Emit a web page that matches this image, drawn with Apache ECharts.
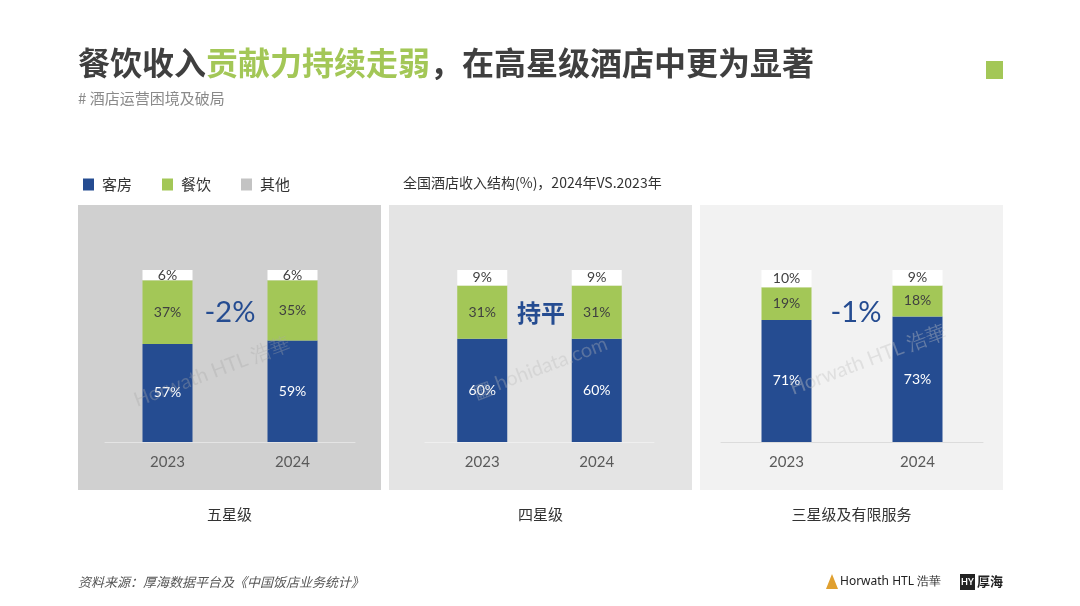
<!DOCTYPE html>
<html>
<head>
<meta charset="utf-8">
<script src="https://cdn.jsdelivr.net/npm/echarts@6/dist/echarts.min.js"></script>
<style>
html,body{margin:0;padding:0;background:#fff;}
#chart{width:1080px;height:606px;}
</style>
</head>
<body>
<div id="chart"></div>
<script>
// ---- data ----
const categories = ['2023', '2024'];
const panelNames = ['五星级', '四星级', '三星级及有限服务'];
const roomShare = [[57, 59], [60, 60], [71, 73]];
const fnbShare = [[37, 35], [31, 31], [19, 18]];
const otherShare = [[6, 6], [9, 9], [10, 9]];
const changeLabels = ['-2%', '持平', '-1%'];
const seriesNames = ['客房', '餐饮', '其他'];

// ---- layout / style ----
const BLUE = '#254c91', GREEN = '#a3c757', OTHER = '#ffffff', LEGEND_GREY = '#c3c3c3';
const panelRects = [
  {x: 78, y: 205, w: 303, h: 285, fill: '#d0d0d0', line: '#e4e4e4'},
  {x: 389, y: 205, w: 303, h: 285, fill: '#e4e4e4', line: '#efefef'},
  {x: 700, y: 205, w: 303, h: 285, fill: '#f2f2f2', line: '#dcdcdc'}
];
const gridDefs = [
  {left: 105, width: 250},
  {left: 425, width: 229},
  {left: 721, width: 262}
];
const numFont = 'Lato, "Noto Sans", sans-serif';
const cjk = '"Noto Sans CJK SC", sans-serif';

const grids = [], xAxes = [], yAxes = [], series = [];
gridDefs.forEach((g, i) => {
  grids.push({left: g.left, width: g.width, top: 270, bottom: 164, containLabel: false});
  xAxes.push({
    type: 'category', gridIndex: i, data: categories,
    axisLine: {show: true, lineStyle: {color: panelRects[i].line, width: 1}},
    axisTick: {show: false},
    axisLabel: {color: '#5a5a5a', fontSize: 15, fontFamily: numFont, margin: 13}
  });
  yAxes.push({type: 'value', gridIndex: i, min: 0, max: 100, show: false, splitLine: {show: false}});
  const sets = [roomShare[i], fnbShare[i], otherShare[i]];
  const colors = [BLUE, GREEN, OTHER];
  const labelColors = ['#ffffff', '#404040', '#404040'];
  sets.forEach((vals, k) => {
    series.push({
      name: seriesNames[k], type: 'bar', stack: 'p' + i,
      xAxisIndex: i, yAxisIndex: i, barWidth: 50,
      data: vals,
      itemStyle: {color: colors[k]},
      label: {show: true, position: 'inside', formatter: '{c}%', color: labelColors[k],
        fontSize: 14, fontFamily: numFont},
      emphasis: {disabled: true}
    });
  });
});

const graphics = [];
panelRects.forEach(p => {
  graphics.push({type: 'rect', z: -10, shape: {x: p.x, y: p.y, width: p.w, height: p.h}, style: {fill: p.fill}});
});
// title
graphics.push({
  type: 'text', x: 78, y: 63, z: 10,
  style: {
    text: '{a|餐饮收入}{b|贡献力持续走弱}{a|，在高星级酒店中更为显著}',
    verticalAlign: 'middle',
    rich: {
      a: {fill: '#3f3f3f', fontSize: 32, fontWeight: 'bold', fontFamily: cjk},
      b: {fill: GREEN, fontSize: 32, fontWeight: 'bold', fontFamily: cjk}
    }
  }
});
graphics.push({type: 'text', x: 78, y: 98, style: {text: '# 酒店运营困境及破局', fill: '#8a8a8a', fontSize: 15, fontFamily: cjk, verticalAlign: 'middle'}});
graphics.push({type: 'rect', shape: {x: 986, y: 61, width: 17, height: 18}, style: {fill: GREEN}});
// chart title
graphics.push({type: 'text', x: 403, y: 183, style: {text: '全国酒店收入结构(%)，2024年VS.2023年', fill: '#333', fontSize: 14, fontFamily: cjk, verticalAlign: 'middle'}});
// change labels
const changeX = [230, 541, 856];
changeLabels.forEach((t, i) => {
  const isCjk = /[\u4e00-\u9fff]/.test(t);
  graphics.push({type: 'text', x: changeX[i], y: 313, z: 10, style: {
    text: t, fill: BLUE, fontSize: isCjk ? 24 : 29, fontWeight: isCjk ? 'bold' : 'normal',
    fontFamily: isCjk ? cjk : numFont, align: 'center', verticalAlign: 'middle'}});
});
// panel names
panelNames.forEach((t, i) => {
  const p = panelRects[i];
  graphics.push({type: 'text', x: p.x + p.w / 2, y: 514, style: {text: t, fill: '#333', fontSize: 15, fontFamily: cjk, align: 'center', verticalAlign: 'middle'}});
});
// watermarks
const wm = [
  {x: 212, y: 372, t: 'Horwath HTL 浩華', c: 'rgba(170,170,170,0.35)'},
  {x: 540, y: 368, t: '▦ hohidata.com', c: 'rgba(185,185,185,0.35)'},
  {x: 868, y: 360, t: 'Horwath HTL 浩華', c: 'rgba(195,195,195,0.4)'}
];
wm.forEach(w => {
  graphics.push({type: 'text', x: w.x, y: w.y, rotation: 0.36, z: 20, style: {text: w.t, fill: w.c, fontSize: 20, fontFamily: numFont, align: 'center', verticalAlign: 'middle'}});
});
// footer
graphics.push({type: 'text', x: 78, y: 582, style: {text: '资料来源：厚海数据平台及《中国饭店业务统计》', fill: '#555', fontSize: 13, fontStyle: 'italic', fontFamily: cjk, verticalAlign: 'middle'}});
graphics.push({type: 'polygon', shape: {points: [[826, 589], [832, 574], [838, 589]]}, style: {fill: '#e0a030'}});
graphics.push({type: 'text', x: 840, y: 582, style: {text: 'Horwath HTL 浩華', fill: '#222', fontSize: 12, fontFamily: '"Liberation Sans Narrow", "Noto Sans", sans-serif', verticalAlign: 'middle'}});
graphics.push({type: 'rect', shape: {x: 960, y: 574, width: 15, height: 16}, style: {fill: '#222'}});
graphics.push({type: 'text', x: 967.5, y: 582, style: {text: 'HY', fill: '#fff', fontSize: 9, fontWeight: 'bold', fontFamily: numFont, align: 'center', verticalAlign: 'middle'}});
graphics.push({type: 'text', x: 977, y: 581, style: {text: '厚海', fill: '#222', fontSize: 13, fontWeight: 'bold', fontFamily: cjk, verticalAlign: 'middle'}});

const option = {
  backgroundColor: '#ffffff',
  animation: false,
  legend: {
    left: 78, top: 172, itemWidth: 11, itemHeight: 12, itemGap: 30,
    icon: 'rect',
    textStyle: {color: '#333', fontSize: 15, fontFamily: cjk, padding: [0, 0, 0, 3]},
    data: [
      {name: '客房'},
      {name: '餐饮'},
      {name: '其他', itemStyle: {color: LEGEND_GREY}}
    ],
    selectedMode: false
  },
  grid: grids,
  xAxis: xAxes,
  yAxis: yAxes,
  series: series,
  graphic: graphics
};
const chart = echarts.init(document.getElementById('chart'), null, {renderer: 'canvas'});
chart.setOption(option);
</script>
</body>
</html>
